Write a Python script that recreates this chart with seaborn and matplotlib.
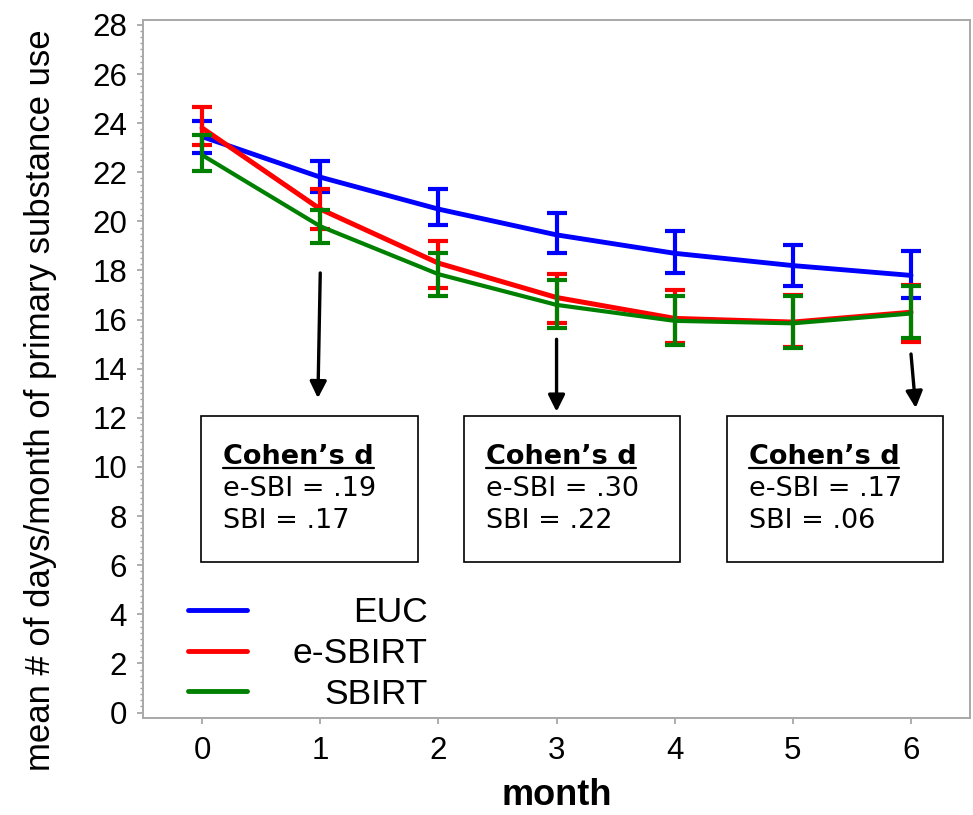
import numpy as np
import pandas as pd
import matplotlib
matplotlib.use("Agg")
import matplotlib.pyplot as plt
import seaborn as sns
from matplotlib.ticker import MultipleLocator
from matplotlib.lines import Line2D
from matplotlib.patches import Rectangle

# ---------------- data ----------------
months = [0, 1, 2, 3, 4, 5, 6]
groups = ["EUC", "e-SBIRT", "SBIRT"]
colors = ["#0000ff", "#ff0000", "#008000"]

euc_mean = [23.45, 21.8, 20.5, 19.45, 18.7, 18.2, 17.8]
euc_low = [22.8, 21.2, 19.85, 18.7, 17.9, 17.35, 16.9]
euc_high = [24.1, 22.45, 21.3, 20.35, 19.6, 19.05, 18.8]

esb_mean = [23.8, 20.5, 18.3, 16.9, 16.05, 15.9, 16.3]
esb_low = [23.1, 19.7, 17.3, 15.85, 15.05, 14.9, 15.1]
esb_high = [24.65, 21.3, 19.2, 17.85, 17.2, 17.0, 17.4]

sb_mean = [22.7, 19.8, 17.85, 16.6, 15.95, 15.85, 16.25]
sb_low = [22.05, 19.1, 16.95, 15.65, 14.95, 14.85, 15.25]
sb_high = [23.5, 20.45, 18.7, 17.6, 16.95, 16.95, 17.35]

arrow_months = [1, 3, 6]
box_title = "Cohen\u2019s d"
esbi_d = [".19", ".30", ".17"]
sbi_d = [".17", ".22", ".06"]

y_ticks = list(range(0, 29, 2))
x_label = "month"
y_label = "mean # of days/month of primary substance use"

# ---------------- build ----------------
means = [euc_mean, esb_mean, sb_mean]
lows = [euc_low, esb_low, sb_low]
highs = [euc_high, esb_high, sb_high]

df = pd.DataFrame({
    "month": months * 3,
    "group": [g for g in groups for _ in months],
    "mean": euc_mean + esb_mean + sb_mean,
})

sns.set_style("white")
plt.rcParams["font.family"] = ["Liberation Sans", "DejaVu Sans"]
plt.rcParams["text.color"] = "black"
plt.rcParams["axes.labelcolor"] = "black"
plt.rcParams["xtick.color"] = "black"
plt.rcParams["ytick.color"] = "black"

fig = plt.figure(figsize=(9.73, 8.15), dpi=100)
ax = fig.add_axes([0.147, 0.1196, 0.85, 0.8559])

line_widths = [3.5, 3.6, 3.0]
for i, (g, c) in enumerate(zip(groups, colors)):
    m = np.array(means[i]); lo = np.array(lows[i]); hi = np.array(highs[i])
    ax.errorbar(months, m, yerr=[m - lo, hi - m], fmt="none", ecolor=c,
                elinewidth=3.0, capsize=7.2, capthick=3.0, zorder=2 + i)

sns.lineplot(data=df, x="month", y="mean", hue="group", hue_order=groups,
             palette=colors, ax=ax, legend=False, linewidth=3.5)
seaborn_lines = ax.lines[-3:]
for i, ln in enumerate(seaborn_lines):
    ln.set_linewidth(line_widths[i])
    ln.set_zorder(2.5 + i)

leg_handles = [Line2D([], [], color=c, lw=3.5) for c in colors]
leg = ax.legend(leg_handles, groups, loc="upper left", bbox_to_anchor=(0.054, 0.174),
                frameon=False, fontsize=25.5, handlelength=1.68, handletextpad=0.5,
                labelspacing=0.22, borderpad=0, borderaxespad=0)
for col in leg._legend_handle_box.get_children():
    for row in col.get_children():
        row.mode = "expand"
        row.width = 240

ax.set_xlim(-0.5, 6.5)
ax.set_ylim(-0.2, 28.2)
ax.set_xticks(months)
ax.set_yticks(y_ticks)
ax.yaxis.set_minor_locator(MultipleLocator(0.25))
ax.tick_params(axis="both", which="major", labelsize=22.5, color="#a0a0a0",
               length=4.5, width=1.2, labelcolor="black")
ax.tick_params(axis="y", which="major", pad=7, left=True)
ax.tick_params(axis="x", which="major", pad=9, bottom=True)
ax.tick_params(axis="y", which="minor", left=True, length=2.5, width=1.0, color="#a0a0a0")
for s in ax.spines.values():
    s.set_color("#a8a8a8")
    s.set_linewidth(1.4)

ax.set_xlabel(x_label, fontsize=26, fontweight="bold")
ax.set_ylabel(y_label, fontsize=25)
ax.yaxis.set_label_coords(-0.104, 0.455)
ax.xaxis.set_label_coords(0.5, -0.086)

# ---------------- annotations ----------------
arrow_starts = [(1.0, 17.9), (3.0, 15.2), (6.0, 14.6)]
arrow_ends = [(0.98, 12.8), (3.0, 12.25), (6.04, 12.4)]
for s, e in zip(arrow_starts, arrow_ends):
    ax.annotate("", xy=e, xytext=s,
                arrowprops=dict(arrowstyle="-|>,head_length=0.5,head_width=0.25",
                                lw=2.4, color="black", mutation_scale=20,
                                shrinkA=0, shrinkB=0), zorder=6)

box_left = [-0.01, 2.214, 4.44]
box_w = 1.835
box_bottom, box_top = 6.15, 12.09
title_texts = []
for i, bx in enumerate(box_left):
    ax.add_patch(Rectangle((bx, box_bottom), box_w, box_top - box_bottom,
                           facecolor="white", edgecolor="black", lw=1.2, zorder=5))
    tx = bx + 0.186
    t = ax.text(tx, 10.13, box_title, fontsize=19.5, fontweight="bold",
                family=["DejaVu Sans"], va="baseline", ha="left", zorder=6)
    title_texts.append((t, tx))
    ax.text(tx, 8.80, f"e-SBI = {esbi_d[i]}", fontsize=19.5, family=["DejaVu Sans"],
            va="baseline", ha="left", zorder=6)
    ax.text(tx, 7.53, f"SBI = {sbi_d[i]}", fontsize=19.5, family=["DejaVu Sans"],
            va="baseline", ha="left", zorder=6)

fig.canvas.draw()
renderer = fig.canvas.get_renderer()
inv = fig.transFigure.inverted()
for t, tx in title_texts:
    bb = t.get_window_extent(renderer)
    base_y = ax.transData.transform((tx, 10.13))[1]
    y = base_y - 4
    (x0, y0), (x1, y1) = inv.transform([(bb.x0, y), (bb.x1, y)])
    fig.add_artist(Line2D([x0, x1], [y0, y1], color="black", lw=1.6, zorder=7))

fig.savefig("out.png", dpi=100)
